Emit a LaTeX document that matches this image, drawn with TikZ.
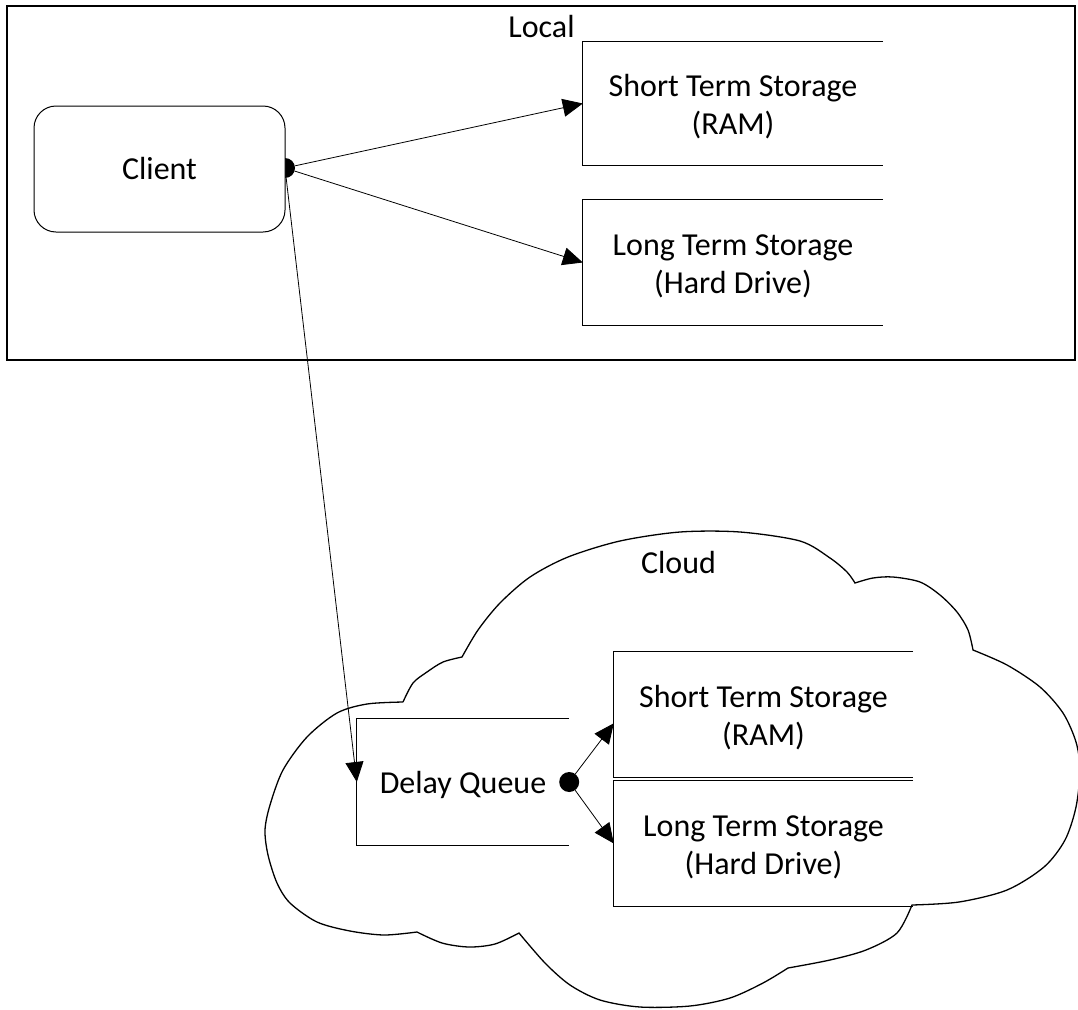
\documentclass[tikz,border=0pt]{standalone}
\usepackage{fontspec}
\setmainfont{Carlito}
\usetikzlibrary{arrows.meta,calc}
\newcommand{\toppad}{\rule{0pt}{28pt}}
\begin{document}
\begin{tikzpicture}[x=1pt,y=-1pt,
  txt/.style={font=\fontsize{32}{38.5}\selectfont, align=center, inner sep=0pt},
  boxnode/.style={rectangle, inner sep=0pt, font=\fontsize{32}{38.5}\selectfont, align=center},
  edge/.style={draw=black, line width=1pt},
  cloudline/.style={draw=black, line width=1.3pt, line join=miter},
  arr/.style={line width=0.8pt, -{Triangle[length=20pt,width=18pt]}},
  dot/.style={circle, fill=black, minimum size=20pt, inner sep=0pt}]
\useasboundingbox (0,0) rectangle (1078,1009);

% local frame
\node[draw, line width=1.6pt, minimum width=1068pt, minimum height=354pt, inner sep=0pt] (localframe) at (541,183) {};
\node[txt, anchor=base] (locallbl) at (541.5,37) {Local};

% cloud outline
\draw[cloudline] (403,702)
  -- plot[smooth] coordinates {(403,702) (413,683) (427,672) (443,662) (462,657)}
  -- plot[smooth] coordinates {(462,657) (478,630) (500,603) (530,577) (568,557) (620,541) (680,532) (740,532) (800,541) (830,558) (847,572) (855,583)}
  -- plot[smooth] coordinates {(855,583) (873,578) (893,577) (920,582) (940,595) (957,612) (968,630) (973,650)}
  -- plot[smooth] coordinates {(973,650) (1007,665) (1040,687) (1063,713) (1076,742) (1080,770) (1076,807) (1065,840) (1044,867) (1007,890) (959,902) (912,905)}
  -- plot[smooth] coordinates {(912,905) (897,933) (866,950) (830,960) (788,968)}
  -- plot[smooth] coordinates {(788,968) (763,983) (730,998) (690,1006) (640,1007) (600,1000) (570,985) (545,963) (519,933)}
  -- plot[smooth] coordinates {(519,933) (495,944) (469,947) (442,943) (417,932)}
  -- plot[smooth] coordinates {(417,932) (384,935) (350,931) (317,922) (290,903) (277,883) (268,855) (265,830) (270,805) (283,770) (307,737) (337,713) (367,704) (403,702)};
\node[txt, anchor=base] (cloudlbl) at (678.5,573) {Cloud};

% client
\node[dot] (cdot) at (285,168) {};
\node[draw, line width=1pt, fill=white, rounded corners=22pt, minimum width=251pt, minimum height=126pt, inner sep=0pt, font=\fontsize{32}{38.5}\selectfont] (client) at (159.5,169) {Client};

% local storage boxes
\node[boxnode, minimum width=300pt, minimum height=123pt] (lst) at (733,103.5) {\toppad Short Term Storage\\(RAM)};
\draw[edge] (lst.north east) -- (lst.north west) -- (lst.south west) -- (lst.south east);
\node[boxnode, minimum width=300pt, minimum height=125pt] (llt) at (733,262.5) {\toppad Long Term Storage\\(Hard Drive)};
\draw[edge] (llt.north east) -- (llt.north west) -- (llt.south west) -- (llt.south east);

% cloud boxes
\node[boxnode, minimum width=212pt, minimum height=126pt] (dq) at (463,782) {\toppad Delay Queue};
\draw[edge] (dq.north east) -- (dq.north west) -- (dq.south west) -- (dq.south east);
\node[boxnode, minimum width=299pt, minimum height=125pt] (cst) at (763.5,714.5) {\toppad Short Term Storage\\(RAM)};
\draw[edge] (cst.north east) -- (cst.north west) -- (cst.south west) -- (cst.south east);
\node[boxnode, minimum width=299pt, minimum height=125pt] (clt) at (763.5,843.5) {\toppad Long Term Storage\\(Hard Drive)};
\draw[edge] (clt.north east) -- (clt.north west) -- (clt.south west) -- (clt.south east);
\node[dot] (ddot) at (dq.east) {};

% connectors
\draw[arr] (cdot) -- (lst.west);
\draw[arr] (cdot) -- (llt.west);
\draw[arr] (cdot) -- (dq.west);
\draw[arr] (ddot) -- ($(cst.north west)!0.57!(cst.south west)$);
\draw[arr] (ddot) -- (clt.west);
\end{tikzpicture}
\end{document}
